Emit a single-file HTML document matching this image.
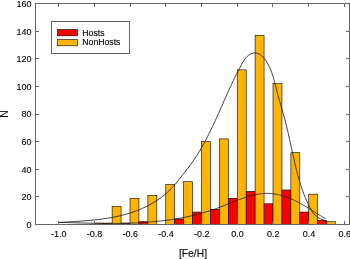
<!DOCTYPE html><html><head><meta charset="utf-8"><style>html,body{margin:0;padding:0;background:#fff;}svg{display:block;will-change:transform;}text{font-family:"Liberation Sans",sans-serif;fill:#000;stroke:#000;stroke-width:0.12px;}</style></head><body>
<svg width="350" height="259" viewBox="0 0 350 259">
<rect x="94.25" y="223.12" width="8.94" height="1.38" fill="#ffb400" stroke="#000" stroke-width="0.6"/>
<rect x="103.19" y="223.12" width="8.94" height="1.38" fill="#ff0000" stroke="#000" stroke-width="0.6"/>
<rect x="112.13" y="206.55" width="8.94" height="17.95" fill="#ffb400" stroke="#000" stroke-width="0.6"/>
<rect x="121.06" y="223.12" width="8.94" height="1.38" fill="#ff0000" stroke="#000" stroke-width="0.6"/>
<rect x="130.00" y="198.27" width="8.94" height="26.23" fill="#ffb400" stroke="#000" stroke-width="0.6"/>
<rect x="138.94" y="221.74" width="8.94" height="2.76" fill="#ff0000" stroke="#000" stroke-width="0.6"/>
<rect x="147.88" y="195.51" width="8.94" height="28.99" fill="#ffb400" stroke="#000" stroke-width="0.6"/>
<rect x="165.75" y="184.46" width="8.94" height="40.04" fill="#ffb400" stroke="#000" stroke-width="0.6"/>
<rect x="174.69" y="218.98" width="8.94" height="5.52" fill="#ff0000" stroke="#000" stroke-width="0.6"/>
<rect x="183.62" y="181.70" width="8.94" height="42.80" fill="#ffb400" stroke="#000" stroke-width="0.6"/>
<rect x="192.56" y="212.07" width="8.94" height="12.43" fill="#ff0000" stroke="#000" stroke-width="0.6"/>
<rect x="201.50" y="141.66" width="8.94" height="82.84" fill="#ffb400" stroke="#000" stroke-width="0.6"/>
<rect x="210.44" y="209.31" width="8.94" height="15.19" fill="#ff0000" stroke="#000" stroke-width="0.6"/>
<rect x="219.38" y="138.90" width="8.94" height="85.60" fill="#ffb400" stroke="#000" stroke-width="0.6"/>
<rect x="228.31" y="198.27" width="8.94" height="26.23" fill="#ff0000" stroke="#000" stroke-width="0.6"/>
<rect x="237.25" y="69.87" width="8.94" height="154.63" fill="#ffb400" stroke="#000" stroke-width="0.6"/>
<rect x="246.19" y="191.37" width="8.94" height="33.13" fill="#ff0000" stroke="#000" stroke-width="0.6"/>
<rect x="255.12" y="35.36" width="8.94" height="189.14" fill="#ffb400" stroke="#000" stroke-width="0.6"/>
<rect x="264.06" y="203.79" width="8.94" height="20.71" fill="#ff0000" stroke="#000" stroke-width="0.6"/>
<rect x="273.00" y="83.68" width="8.94" height="140.82" fill="#ffb400" stroke="#000" stroke-width="0.6"/>
<rect x="281.94" y="189.99" width="8.94" height="34.51" fill="#ff0000" stroke="#000" stroke-width="0.6"/>
<rect x="290.88" y="152.71" width="8.94" height="71.79" fill="#ffb400" stroke="#000" stroke-width="0.6"/>
<rect x="299.81" y="212.07" width="8.94" height="12.43" fill="#ff0000" stroke="#000" stroke-width="0.6"/>
<rect x="308.75" y="194.13" width="8.94" height="30.37" fill="#ffb400" stroke="#000" stroke-width="0.6"/>
<rect x="317.69" y="220.36" width="8.94" height="4.14" fill="#ff0000" stroke="#000" stroke-width="0.6"/>
<rect x="326.62" y="221.74" width="8.94" height="2.76" fill="#ffb400" stroke="#000" stroke-width="0.6"/>
<path d="M58.54,222.58 L60.11,222.48 L61.67,222.37 L63.24,222.27 L64.81,222.17 L66.38,222.07 L67.96,221.97 L69.53,221.87 L71.11,221.77 L72.69,221.67 L74.28,221.57 L75.86,221.47 L77.45,221.36 L79.03,221.25 L80.62,221.14 L82.20,221.02 L83.79,220.90 L85.38,220.77 L86.97,220.64 L88.55,220.50 L90.14,220.35 L91.72,220.20 L93.31,220.04 L94.89,219.88 L96.48,219.70 L98.06,219.52 L99.64,219.33 L101.22,219.13 L102.79,218.91 L104.37,218.69 L105.94,218.46 L107.51,218.21 L109.07,217.96 L110.64,217.69 L112.20,217.40 L113.75,217.11 L115.31,216.80 L116.85,216.48 L118.40,216.14 L119.94,215.78 L121.48,215.41 L123.01,215.03 L124.54,214.63 L126.06,214.21 L127.58,213.77 L129.09,213.31 L130.60,212.84 L132.10,212.35 L133.60,211.83 L135.09,211.30 L136.57,210.75 L138.05,210.18 L139.52,209.58 L140.98,208.96 L142.44,208.32 L143.88,207.66 L145.32,206.98 L146.75,206.28 L148.17,205.55 L149.57,204.81 L150.97,204.04 L152.35,203.25 L153.72,202.44 L155.07,201.60 L156.40,200.75 L157.72,199.88 L159.03,198.98 L160.31,198.07 L161.58,197.13 L162.82,196.18 L164.05,195.20 L165.25,194.20 L166.43,193.19 L167.59,192.15 L168.72,191.09 L169.83,190.01 L170.92,188.92 L171.98,187.80 L173.02,186.67 L174.04,185.52 L175.05,184.35 L176.05,183.18 L177.03,181.99 L178.01,180.78 L178.98,179.57 L179.95,178.35 L180.92,177.12 L181.89,175.89 L182.87,174.65 L183.85,173.40 L184.84,172.15 L185.82,170.89 L186.80,169.64 L187.78,168.37 L188.75,167.10 L189.71,165.83 L190.65,164.55 L191.58,163.27 L192.49,161.99 L193.39,160.69 L194.27,159.40 L195.14,158.09 L195.99,156.79 L196.84,155.47 L197.67,154.15 L198.49,152.82 L199.31,151.48 L200.11,150.13 L200.90,148.78 L201.69,147.42 L202.47,146.05 L203.24,144.67 L204.00,143.28 L204.76,141.89 L205.50,140.50 L206.25,139.10 L206.98,137.69 L207.71,136.28 L208.43,134.86 L209.14,133.44 L209.85,132.02 L210.55,130.59 L211.24,129.16 L211.93,127.73 L212.62,126.30 L213.29,124.87 L213.97,123.43 L214.63,122.00 L215.30,120.56 L215.95,119.13 L216.61,117.69 L217.26,116.26 L217.90,114.82 L218.54,113.39 L219.18,111.96 L219.82,110.52 L220.46,109.09 L221.09,107.66 L221.72,106.23 L222.36,104.79 L222.99,103.36 L223.62,101.93 L224.25,100.50 L224.89,99.06 L225.52,97.63 L226.16,96.20 L226.80,94.76 L227.44,93.33 L228.09,91.90 L228.74,90.46 L229.39,89.03 L230.05,87.59 L230.71,86.16 L231.38,84.72 L232.05,83.29 L232.73,81.85 L233.42,80.41 L234.11,78.97 L234.82,77.53 L235.53,76.09 L236.24,74.65 L236.97,73.21 L237.70,71.77 L238.45,70.33 L239.20,68.88 L239.97,67.44 L240.75,65.99 L241.53,64.54 L242.34,63.10 L243.17,61.68 L244.04,60.31 L244.96,58.99 L245.95,57.76 L247.02,56.62 L248.17,55.60 L249.42,54.71 L250.77,53.97 L252.17,53.42 L253.60,53.07 L255.04,52.94 L256.44,53.05 L257.80,53.41 L259.11,53.99 L260.37,54.77 L261.57,55.71 L262.72,56.80 L263.82,58.01 L264.86,59.31 L265.84,60.67 L266.75,62.08 L267.61,63.50 L268.41,64.94 L269.15,66.39 L269.84,67.86 L270.48,69.33 L271.08,70.82 L271.65,72.31 L272.17,73.81 L272.67,75.33 L273.13,76.84 L273.58,78.36 L274.00,79.89 L274.40,81.42 L274.80,82.95 L275.18,84.49 L275.56,86.02 L275.95,87.56 L276.33,89.09 L276.72,90.62 L277.12,92.15 L277.53,93.67 L277.94,95.19 L278.36,96.71 L278.79,98.23 L279.22,99.75 L279.66,101.26 L280.09,102.78 L280.53,104.29 L280.98,105.81 L281.42,107.32 L281.86,108.84 L282.30,110.36 L282.73,111.87 L283.17,113.39 L283.60,114.92 L284.02,116.44 L284.44,117.96 L284.85,119.49 L285.25,121.02 L285.65,122.56 L286.04,124.10 L286.42,125.64 L286.80,127.18 L287.17,128.73 L287.53,130.27 L287.89,131.82 L288.25,133.38 L288.60,134.93 L288.95,136.48 L289.30,138.04 L289.64,139.59 L289.98,141.15 L290.32,142.71 L290.66,144.27 L290.99,145.83 L291.33,147.39 L291.67,148.95 L292.00,150.50 L292.34,152.06 L292.68,153.62 L293.03,155.18 L293.37,156.73 L293.72,158.29 L294.07,159.84 L294.42,161.39 L294.78,162.94 L295.15,164.49 L295.52,166.03 L295.89,167.58 L296.27,169.12 L296.66,170.65 L297.05,172.19 L297.46,173.72 L297.87,175.25 L298.29,176.77 L298.71,178.29 L299.15,179.81 L299.60,181.33 L300.06,182.83 L300.52,184.34 L301.00,185.84 L301.50,187.33 L302.00,188.82 L302.51,190.31 L303.04,191.79 L303.59,193.26 L304.14,194.73 L304.71,196.20 L305.30,197.65 L305.90,199.10 L306.52,200.55 L307.15,201.98 L307.80,203.41 L308.47,204.84 L309.15,206.25 L309.86,207.66 L310.59,209.04 L311.38,210.40 L312.23,211.70 L313.15,212.94 L314.17,214.10 L315.26,215.19 L316.44,216.20 L317.70,217.12 L319.04,217.97 L320.44,218.73 L321.89,219.42 L323.39,220.03 L324.92,220.57 L326.48,221.04" fill="none" stroke="#222" stroke-width="0.9"/>
<path d="M58.40,222.30 L59.34,222.33 L60.27,222.36 L61.20,222.39 L62.14,222.41 L63.07,222.44 L64.00,222.47 L64.94,222.50 L65.87,222.53 L66.80,222.56 L67.74,222.58 L68.67,222.61 L69.61,222.64 L70.54,222.67 L71.47,222.70 L72.41,222.72 L73.34,222.75 L74.27,222.78 L75.21,222.81 L76.14,222.83 L77.07,222.86 L78.01,222.89 L78.94,222.92 L79.87,222.94 L80.81,222.97 L81.74,222.99 L82.67,223.02 L83.61,223.04 L84.54,223.07 L85.47,223.09 L86.41,223.11 L87.34,223.14 L88.27,223.16 L89.21,223.18 L90.14,223.20 L91.07,223.22 L92.00,223.24 L92.94,223.26 L93.87,223.28 L94.80,223.29 L95.73,223.31 L96.67,223.33 L97.60,223.34 L98.53,223.36 L99.46,223.37 L100.39,223.38 L101.33,223.39 L102.26,223.40 L103.19,223.41 L104.12,223.42 L105.05,223.43 L105.98,223.44 L106.91,223.44 L107.84,223.45 L108.78,223.45 L109.71,223.45 L110.64,223.45 L111.57,223.45 L112.50,223.45 L113.43,223.45 L114.36,223.44 L115.28,223.44 L116.21,223.43 L117.14,223.42 L118.07,223.41 L119.00,223.40 L119.93,223.39 L120.86,223.37 L121.79,223.36 L122.71,223.34 L123.64,223.32 L124.57,223.30 L125.50,223.28 L126.42,223.26 L127.35,223.23 L128.28,223.21 L129.20,223.18 L130.13,223.15 L131.06,223.12 L131.98,223.08 L132.91,223.05 L133.83,223.01 L134.76,222.97 L135.68,222.93 L136.61,222.89 L137.53,222.84 L138.45,222.79 L139.38,222.74 L140.30,222.69 L141.22,222.64 L142.15,222.58 L143.07,222.53 L143.99,222.47 L144.91,222.41 L145.84,222.34 L146.76,222.28 L147.68,222.21 L148.60,222.14 L149.52,222.07 L150.44,221.99 L151.36,221.91 L152.28,221.83 L153.20,221.75 L154.12,221.67 L155.04,221.58 L155.95,221.49 L156.87,221.40 L157.79,221.30 L158.71,221.21 L159.62,221.11 L160.54,221.01 L161.46,220.90 L162.37,220.79 L163.29,220.68 L164.20,220.57 L165.12,220.45 L166.03,220.34 L166.94,220.22 L167.86,220.09 L168.77,219.96 L169.68,219.83 L170.59,219.70 L171.51,219.57 L172.42,219.43 L173.33,219.29 L174.24,219.14 L175.15,219.00 L176.06,218.85 L176.97,218.69 L177.88,218.54 L178.79,218.38 L179.69,218.21 L180.60,218.05 L181.51,217.88 L182.42,217.70 L183.32,217.53 L184.23,217.35 L185.13,217.17 L186.04,216.98 L186.94,216.79 L187.85,216.60 L188.75,216.41 L189.65,216.21 L190.56,216.00 L191.46,215.80 L192.36,215.59 L193.26,215.37 L194.16,215.16 L195.06,214.94 L195.96,214.71 L196.86,214.49 L197.76,214.25 L198.66,214.02 L199.55,213.78 L200.45,213.54 L201.35,213.29 L202.24,213.04 L203.14,212.79 L204.03,212.53 L204.93,212.27 L205.82,212.00 L206.72,211.73 L207.61,211.46 L208.50,211.18 L209.39,210.90 L210.28,210.62 L211.17,210.33 L212.06,210.03 L212.95,209.73 L213.84,209.43 L214.73,209.13 L215.62,208.82 L216.51,208.50 L217.39,208.18 L218.28,207.86 L219.16,207.53 L220.05,207.20 L220.93,206.87 L221.82,206.53 L222.70,206.18 L223.58,205.84 L224.46,205.49 L225.34,205.14 L226.23,204.79 L227.11,204.43 L227.99,204.08 L228.87,203.72 L229.75,203.37 L230.63,203.01 L231.51,202.66 L232.38,202.31 L233.26,201.95 L234.14,201.60 L235.02,201.25 L235.90,200.91 L236.78,200.56 L237.66,200.22 L238.53,199.89 L239.41,199.56 L240.29,199.23 L241.17,198.90 L242.05,198.59 L242.93,198.27 L243.80,197.97 L244.68,197.67 L245.56,197.37 L246.44,197.09 L247.32,196.81 L248.20,196.54 L249.08,196.28 L249.96,196.02 L250.84,195.78 L251.72,195.54 L252.60,195.31 L253.48,195.10 L254.37,194.89 L255.25,194.70 L256.13,194.52 L257.02,194.35 L257.90,194.19 L258.79,194.04 L259.67,193.91 L260.56,193.79 L261.45,193.68 L262.33,193.59 L263.22,193.51 L264.11,193.45 L265.00,193.40 L265.89,193.37 L266.79,193.35 L267.68,193.35 L268.57,193.37 L269.47,193.40 L270.36,193.45 L271.26,193.52 L272.15,193.61 L273.05,193.71 L273.95,193.83 L274.85,193.97 L275.75,194.12 L276.65,194.28 L277.54,194.47 L278.44,194.66 L279.34,194.87 L280.24,195.10 L281.13,195.34 L282.03,195.59 L282.92,195.86 L283.82,196.14 L284.71,196.43 L285.60,196.73 L286.49,197.05 L287.37,197.38 L288.26,197.72 L289.14,198.07 L290.02,198.43 L290.90,198.80 L291.78,199.18 L292.65,199.57 L293.52,199.97 L294.39,200.38 L295.25,200.80 L296.11,201.23 L296.97,201.66 L297.83,202.10 L298.68,202.55 L299.53,203.01 L300.37,203.47 L301.21,203.94 L302.05,204.42 L302.88,204.90 L303.71,205.38 L304.54,205.87 L305.36,206.36 L306.18,206.85 L307.00,207.35 L307.81,207.85 L308.62,208.35 L309.43,208.85 L310.23,209.35 L311.03,209.85 L311.83,210.35 L312.62,210.84 L313.41,211.34 L314.20,211.83 L314.98,212.33 L315.76,212.81 L316.54,213.30 L317.31,213.78 L318.08,214.25 L318.85,214.72 L319.62,215.19 L320.38,215.65 L321.14,216.10 L321.90,216.54 L322.65,216.98 L323.40,217.41 L324.15,217.83 L324.89,218.24 L325.63,218.64" fill="none" stroke="#222" stroke-width="0.9"/>
<rect x="35.5" y="3.5" width="314" height="221" fill="none" stroke="#666" stroke-width="1"/>
<path d="M58.5,224 V221 M58.5,4 V7 M94.5,224 V221 M94.5,4 V7 M130.5,224 V221 M130.5,4 V7 M165.5,224 V221 M165.5,4 V7 M201.5,224 V221 M201.5,4 V7 M237.5,224 V221 M237.5,4 V7 M272.5,224 V221 M272.5,4 V7 M308.5,224 V221 M308.5,4 V7 M344.5,224 V221 M344.5,4 V7 M36,224.5 H39 M349,224.5 H346 M36,196.5 H39 M349,196.5 H346 M36,169.5 H39 M349,169.5 H346 M36,141.5 H39 M349,141.5 H346 M36,114.5 H39 M349,114.5 H346 M36,86.5 H39 M349,86.5 H346 M36,58.5 H39 M349,58.5 H346 M36,31.5 H39 M349,31.5 H346 M36,3.5 H39 M349,3.5 H346" stroke="#666" stroke-width="1" fill="none"/>
<text transform="translate(31.5,227.80) scale(0.94,1)" font-size="9.6" text-anchor="end">0</text>
<text transform="translate(31.5,200.19) scale(0.94,1)" font-size="9.6" text-anchor="end">20</text>
<text transform="translate(31.5,172.58) scale(0.94,1)" font-size="9.6" text-anchor="end">40</text>
<text transform="translate(31.5,144.96) scale(0.94,1)" font-size="9.6" text-anchor="end">60</text>
<text transform="translate(31.5,117.35) scale(0.94,1)" font-size="9.6" text-anchor="end">80</text>
<text transform="translate(31.5,89.74) scale(0.94,1)" font-size="9.6" text-anchor="end">100</text>
<text transform="translate(31.5,62.13) scale(0.94,1)" font-size="9.6" text-anchor="end">120</text>
<text transform="translate(31.5,34.52) scale(0.94,1)" font-size="9.6" text-anchor="end">140</text>
<text transform="translate(31.5,6.90) scale(0.94,1)" font-size="9.6" text-anchor="end">160</text>
<text transform="translate(58.70,236.7) scale(0.94,1)" font-size="9.6" text-anchor="middle">-1.0</text>
<text transform="translate(94.45,236.7) scale(0.94,1)" font-size="9.6" text-anchor="middle">-0.8</text>
<text transform="translate(130.20,236.7) scale(0.94,1)" font-size="9.6" text-anchor="middle">-0.6</text>
<text transform="translate(165.95,236.7) scale(0.94,1)" font-size="9.6" text-anchor="middle">-0.4</text>
<text transform="translate(201.70,236.7) scale(0.94,1)" font-size="9.6" text-anchor="middle">-0.2</text>
<text transform="translate(237.45,236.7) scale(0.94,1)" font-size="9.6" text-anchor="middle">0.0</text>
<text transform="translate(273.20,236.7) scale(0.94,1)" font-size="9.6" text-anchor="middle">0.2</text>
<text transform="translate(308.95,236.7) scale(0.94,1)" font-size="9.6" text-anchor="middle">0.4</text>
<text transform="translate(344.70,236.7) scale(0.94,1)" font-size="9.6" text-anchor="middle">0.6</text>
<text x="193" y="257.2" font-size="10.3" text-anchor="middle">[Fe/H]</text>
<text transform="translate(7.9,114) rotate(-90)" font-size="10.3" text-anchor="middle">N</text>
<rect x="51.5" y="21.5" width="78" height="32" fill="#fff" stroke="#666" stroke-width="1"/>
<rect x="57.5" y="29.5" width="19.9" height="6.3" fill="#ff0000" stroke="#000" stroke-width="0.6"/>
<rect x="57.5" y="39.5" width="19.9" height="6.3" fill="#ffb400" stroke="#000" stroke-width="0.6"/>
<text x="82.3" y="35.6" font-size="8.7">Hosts</text>
<text x="82.3" y="45.4" font-size="8.7">NonHosts</text>
</svg></body></html>
